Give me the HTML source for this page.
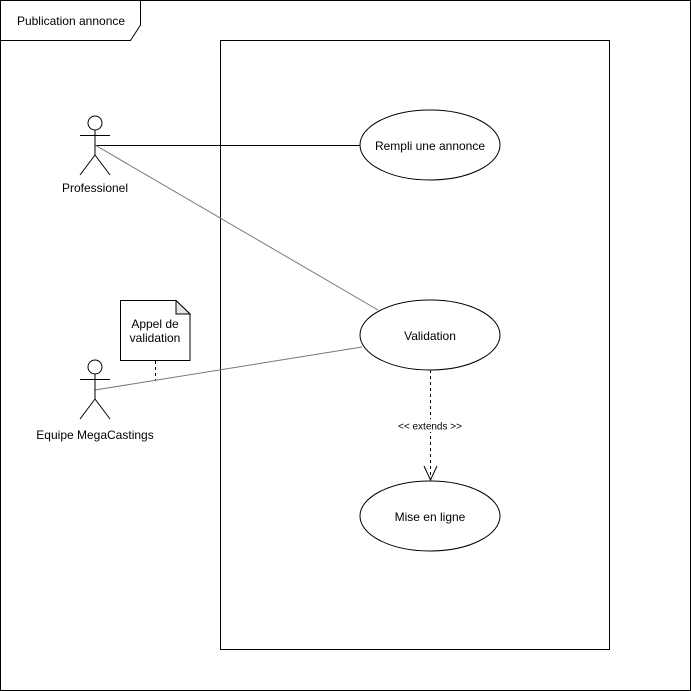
<!DOCTYPE html>
<html><head><meta charset="utf-8"><style>body{margin:0;background:#fff}svg{display:block}text{font-family:"Liberation Sans",Arial,sans-serif;fill:#000}</style></head>
<body>
<svg width="691" height="691" viewBox="0 0 691 691" xmlns="http://www.w3.org/2000/svg">
<rect x="0.5" y="0.5" width="690" height="690" fill="#fff" stroke="#000"/>
<path d="M0.5 0.5 H140.5 V25 L130.5 40.5 H0.5" fill="none" stroke="#000"/>
<text x="71" y="25" font-size="12" text-anchor="middle">Publication annonce</text>
<rect x="220.5" y="40.5" width="389" height="609" fill="none" stroke="#000"/>
<line x1="95" y1="145.5" x2="360" y2="145.5" stroke="#000"/>
<line x1="95" y1="145" x2="378" y2="310" stroke="#777"/>
<line x1="95" y1="390" x2="362" y2="347" stroke="#777"/>
<g fill="#fff" stroke="#000">
<circle cx="95" cy="123" r="7"/>
<path d="M80 135.5 H110 M95 130 V155 L80 175 M95 155 L110 175" fill="none"/>
<circle cx="95" cy="367" r="7"/>
<path d="M80 379.5 H110 M95 374 V399 L80 419 M95 399 L110 419" fill="none"/>
<path d="M120.5 300.5 H176 L190 314 V360.5 H120.5 Z"/>
<path d="M176 300.5 V314 H190 Z" fill="#e6e6e6"/>
<ellipse cx="430" cy="145" rx="70" ry="35"/>
<ellipse cx="430" cy="335" rx="70" ry="35"/>
<ellipse cx="430" cy="516" rx="70" ry="35"/>
</g>
<line x1="430.5" y1="370" x2="430.5" y2="480" stroke="#000" stroke-dasharray="3 3"/>
<line x1="155.5" y1="361" x2="155.5" y2="380" stroke="#000" stroke-dasharray="3 3"/>
<path d="M424 466 L430.5 480 L437 466" fill="none" stroke="#000"/>
<rect x="394" y="419" width="72" height="13" fill="#fff"/>
<text x="430" y="429.5" font-size="10" text-anchor="middle">&lt;&lt; extends &gt;&gt;</text>
<text x="95" y="192" font-size="12" text-anchor="middle">Professionel</text>
<text x="95" y="439" font-size="12" text-anchor="middle">Equipe MegaCastings</text>
<text x="155" y="328" font-size="12" text-anchor="middle">Appel de</text>
<text x="155" y="342" font-size="12" text-anchor="middle">validation</text>
<text x="430" y="150" font-size="12" text-anchor="middle">Rempli une annonce</text>
<text x="430" y="340" font-size="12" text-anchor="middle">Validation</text>
<text x="430" y="521" font-size="12" text-anchor="middle">Mise en ligne</text>
</svg>
</body></html>
